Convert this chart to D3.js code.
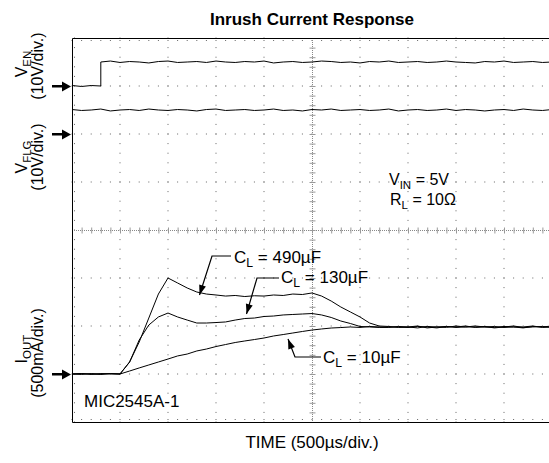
<!DOCTYPE html>
<html><head><meta charset="utf-8">
<script src="https://cdn.jsdelivr.net/npm/d3@7"></script>
<style>body{margin:0;background:#fff} text{font-family:"Liberation Sans",Arial,sans-serif;fill:#000}</style>
</head><body>
<svg id="c" width="549" height="463"></svg>
<script>
// ---- data ----
const timeUs = [0,100,200,300,400,500,600,700,800,900,1000,1100,1200,1300,1400,1500,1600,1700,1800,1900,2000,2100,2200,2300,2400,2500,2600,2700,2800,2900,3000,3100,3200,3300,3400,3500,3600,3700,3800,3900,4000,4100,4200,4300,4400,4500,4600,4700,4800,4900,5000];
const venTime = [0,100,200,300,300,400,500,600,700,800,900,1000,1100,1200,1300,1400,1500,1600,1700,1800,1900,2000,2100,2200,2300,2400,2500,2600,2700,2800,2900,3000,3100,3200,3300,3400,3500,3600,3700,3800,3900,4000,4100,4200,4300,4400,4500,4600,4700,4800,4900,5000];
const venVolts = [0.1,-0.1,0.1,0,
  5.0,5.2,4.9,5.1,5.0,4.8,5.1,5.2,4.9,5.0,
  5.1,4.9,5.2,5.0,4.9,5.1,5.0,5.2,4.8,5.0,
  5.1,4.9,5.0,5.2,5.1,4.9,5.0,4.8,5.1,5.0,
  5.2,4.9,5.0,5.1,4.9,5.0,5.2,5.0,4.9,4.8,
  5.1,5.0,5.2,4.9,5.0,5.1,4.9,5.0];
const vflgVolts = [5.1,4.9,5.0,5.2,4.8,5.0,5.1,4.9,5.2,5.0,
  4.9,5.1,5.0,4.8,5.1,5.2,4.9,5.0,5.1,4.9,
  5.0,5.2,4.9,5.0,4.8,5.1,5.0,5.2,4.9,5.0,
  5.1,4.9,5.0,5.2,4.8,5.0,5.1,4.9,5.0,5.2,
  4.9,5.1,5.0,4.8,5.0,5.1,4.9,5.2,5.0,4.9,
  5.1];
const iout490 = [0,5,-5,5,0, 0,125,333,583,833, 1000,948,896,854,833, 823,812,818,807,815,
  812,823,818,833,828, 844,812,760,698,646, 594,531,500,
  495,485,490,500,480,490,495,485,490,500,490,485,495,490,480,495,490,500];
const iout130 = [0,-5,5,0,5, 0,125,354,510,594, 635,594,562,531,531, 536,542,562,578,583,
  599,604,615,620,625, 630,615,589,552,526, 495,490,485,
  485,495,490,480,495,490,485,500,490,490,495,480,490,500,485,490,495,485];
const iout10 = [0,5,0,-5,5, 0,31,63,94,125, 156,188,208,240,260, 286,307,328,344,359,
  375,396,411,427,443, 458,469,479,484,490, 485,495,490,
  490,490,485,495,490,480,495,490,500,485,490,495,485,490,490,500,485,490];
const seriesLabels = ["490µF","130µF","10µF"];

// ---- scales ----
const svg = d3.select("#c");
const L = 72, T = 38, R = 552, B = 422;
const x = d3.scaleLinear().domain([0,5000]).range([L,R]);
const yI = d3.scaleLinear().domain([-500,3500]).range([B,T]);
const yEN = d3.scaleLinear().domain([-70,10]).range([B,T]);
const yFLG = d3.scaleLinear().domain([-60,20]).range([B,T]);

// ---- title ----
svg.append("text").attr("x",312).attr("y",25).attr("text-anchor","middle")
  .style("font-size","17px").style("font-weight","bold").text("Inrush Current Response");

// ---- grid ----
const g = svg.append("g");
const majorX = d3.range(0,5001,500), minorX = d3.range(0,5001,100);
const majorY = d3.range(-500,3501,500), minorY = d3.range(-500,3501,100);
const dotC = "#666";
majorX.forEach(t => {
  if (t===0 || t===2500) return;
  minorY.forEach(v => g.append("rect").attr("x",x(t)-0.5).attr("y",yI(v)-0.5).attr("width",1).attr("height",1).attr("fill",dotC));
});
majorY.forEach(v => {
  if (v===-500 || v===3500 || v===1500) return;
  minorX.forEach(t => g.append("rect").attr("x",x(t)-0.5).attr("y",yI(v)-0.5).attr("width",1).attr("height",1).attr("fill",dotC));
});
// border inner dots
minorX.forEach(t => {
  g.append("rect").attr("x",x(t)-0.5).attr("y",T+2).attr("width",1).attr("height",1).attr("fill",dotC);
  g.append("rect").attr("x",x(t)-0.5).attr("y",B-3).attr("width",1).attr("height",1).attr("fill",dotC);
});
minorY.forEach(v => g.append("rect").attr("x",L+2).attr("y",yI(v)-0.5).attr("width",1).attr("height",1).attr("fill",dotC));
// center crosshair
const cx = x(2500), cy = yI(1500);
g.append("line").attr("x1",L).attr("x2",R).attr("y1",cy+0.5).attr("y2",cy+0.5)
  .attr("stroke","#888").attr("stroke-dasharray","1,1");
g.append("line").attr("x1",cx+0.5).attr("x2",cx+0.5).attr("y1",T).attr("y2",B)
  .attr("stroke","#888").attr("stroke-dasharray","1,1");
minorX.forEach(t => g.append("line").attr("x1",x(t)+0.5).attr("x2",x(t)+0.5).attr("y1",cy-2.5).attr("y2",cy+3.5).attr("stroke","#999"));
minorY.forEach(v => g.append("line").attr("y1",yI(v)+0.5).attr("y2",yI(v)+0.5).attr("x1",cx-2.5).attr("x2",cx+3.5).attr("stroke","#999"));
// frame
g.append("path").attr("d",`M${R},${T+0.5}H${L+0.5}V${B+0.5}H${R}`).attr("fill","none").attr("stroke","#000");

// ---- traces ----
const tr = svg.append("g").attr("fill","none").attr("stroke","#000").attr("stroke-width",1);
const lineV = (ys) => d3.line().x(d=>x(d[0])).y(d=>ys(d[1]));
tr.append("path").attr("d", lineV(yEN)(d3.zip(venTime, venVolts)));
tr.append("path").attr("d", lineV(yFLG)(d3.zip(timeUs, vflgVolts)));
[iout10, iout130, iout490].forEach(s => tr.append("path").attr("d", lineV(yI)(d3.zip(timeUs, s))));

// ---- channel arrows ----
function chanArrow(y){
  svg.append("rect").attr("x",52).attr("y",y-1).attr("width",12).attr("height",2.5).attr("fill","#000");
  svg.append("path").attr("d",`M${L-1},${y+0.5}L${L-10},${y-4.5}L${L-10},${y+5.5}Z`).attr("fill","#000");
}
chanArrow(yEN(0)); chanArrow(yFLG(0)); chanArrow(yI(0));

// ---- y labels ----
function ylab(xb, yc, main, sub, size){
  const t = svg.append("text").attr("transform",`translate(${xb},${yc}) rotate(-90)`)
    .attr("text-anchor","middle").style("font-size",size+"px");
  t.append("tspan").text(main);
  if (sub) t.append("tspan").attr("dy",4).style("font-size",(size*0.72)+"px").text(sub);
}
ylab(27, 64, "V", "EN", 16);
ylab(43, 66, "(10V/div.)", null, 16);
ylab(27, 157, "V", "FLG", 16);
ylab(43, 157, "(10V/div.)", null, 16);
ylab(27, 349, "I", "OUT", 16);
ylab(43, 353, "(500mA/div.)", null, 16);

// ---- annotation text ----
function subText(xp, yp, main, sub, rest, size){
  const t = svg.append("text").attr("x",xp).attr("y",yp).style("font-size",size+"px");
  t.append("tspan").text(main);
  t.append("tspan").attr("dy",4).style("font-size",(size*0.72)+"px").text(sub);
  t.append("tspan").attr("dy",-4).text(rest);
}
subText(389, 185, "V", "IN", " = 5V", 16);
subText(390, 205, "R", "L", " = 10Ω", 16);
svg.append("text").attr("x",84).attr("y",407).style("font-size","17px").text("MIC2545A-1");
svg.append("text").attr("x",312).attr("y",448).attr("text-anchor","middle").style("font-size","17px").text("TIME (500µs/div.)");

// leaders with arrowheads
function leader(pts, tip){
  const p = pts.concat([tip]);
  svg.append("path").attr("d", d3.line()(p)).attr("fill","none").attr("stroke","#000").attr("stroke-width",1.2);
  const a = p[p.length-2];
  const ang = Math.atan2(tip[1]-a[1], tip[0]-a[0]);
  const len = 10, w = 3.5;
  const bx = tip[0]-len*Math.cos(ang), by = tip[1]-len*Math.sin(ang);
  const nx = -Math.sin(ang)*w, ny = Math.cos(ang)*w;
  svg.append("path").attr("d",`M${tip[0]},${tip[1]}L${bx+nx},${by+ny}L${bx-nx},${by-ny}Z`).attr("fill","#000");
}
subText(234, 263, "C", "L", " = " + seriesLabels[0], 17);
leader([[231,256],[212,256]], [199.5,295]);
subText(281, 283, "C", "L", " = " + seriesLabels[1], 17);
leader([[279,278],[257,278]], [246.5,314]);
subText(323, 363, "C", "L", " = " + seriesLabels[2], 17);
leader([[321,357],[295,357]], [288,339]);
</script>
</body></html>
